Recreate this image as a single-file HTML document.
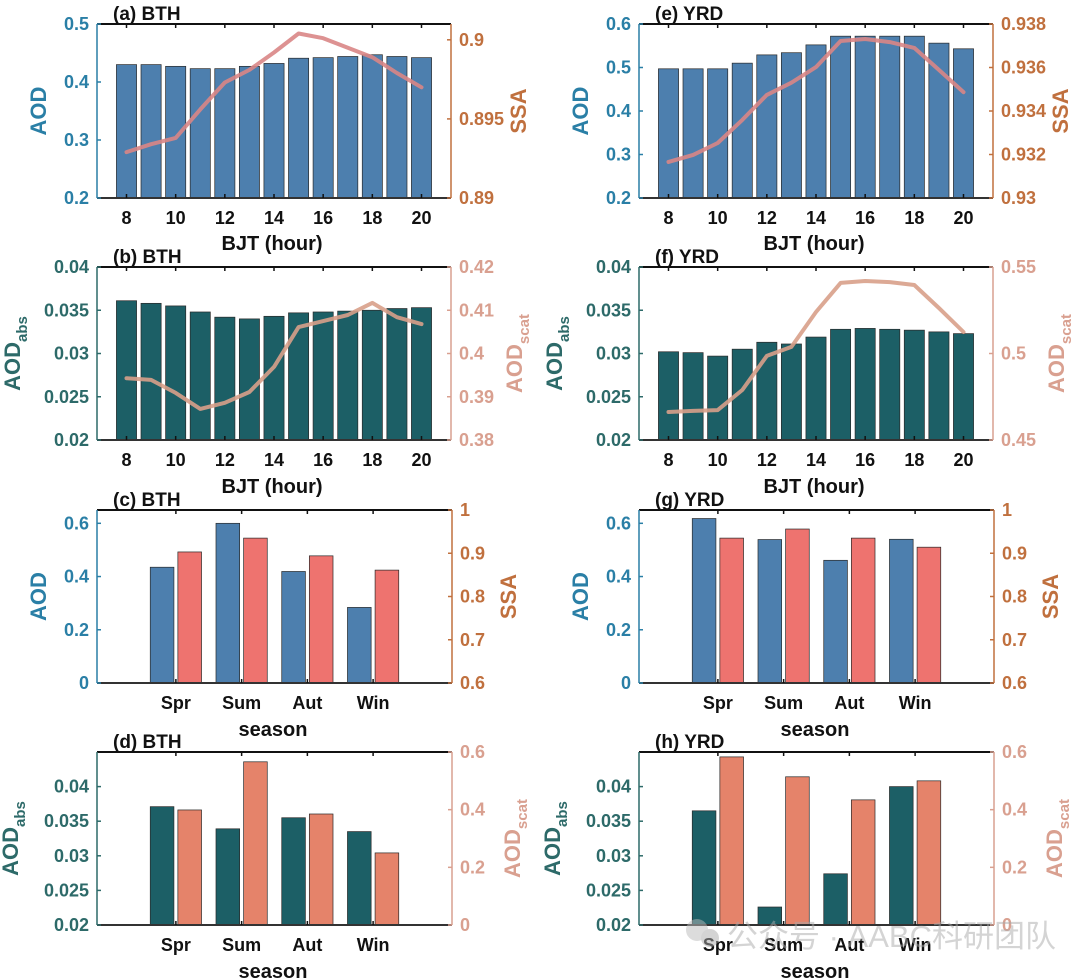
<!DOCTYPE html>
<html><head><meta charset="utf-8">
<style>
html,body{margin:0;padding:0;background:#fff;}
svg{display:block;font-family:"Liberation Sans","Noto Sans CJK SC",sans-serif;font-weight:bold;}
</style></head>
<body>
<svg id="fig" width="1080" height="980" viewBox="0 0 1080 980" xmlns="http://www.w3.org/2000/svg"></svg>
<script>
// ---- data ----
const hours = [8,9,10,11,12,13,14,15,16,17,18,19,20];
const hourTicks = ["8","10","12","14","16","18","20"];
const seasons = ["Spr","Sum","Aut","Win"];

const bthAod = [0.430,0.430,0.427,0.423,0.423,0.427,0.432,0.441,0.442,0.444,0.447,0.444,0.442];
const bthSsa = [0.8929,0.8934,0.8938,0.8956,0.8973,0.8981,0.8992,0.9004,0.9001,0.8995,0.8989,0.8979,0.8970];
const yrdAod = [0.497,0.497,0.497,0.510,0.529,0.534,0.552,0.572,0.572,0.572,0.572,0.556,0.543];
const yrdSsa = [0.93166,0.93198,0.93253,0.93359,0.93474,0.9353,0.93602,0.93722,0.93731,0.93717,0.9369,0.93589,0.93487];

const bthAbs = [0.0361,0.0358,0.0355,0.0348,0.0342,0.0340,0.0343,0.0347,0.0348,0.0349,0.0350,0.0352,0.0353];
const bthScat = [0.3943,0.3939,0.3909,0.3872,0.3886,0.3911,0.3969,0.4061,0.4075,0.4089,0.4117,0.4084,0.4068];
const yrdAbs = [0.0302,0.0301,0.0297,0.0305,0.0313,0.0311,0.0319,0.0328,0.0329,0.0328,0.0327,0.0325,0.0323];
const yrdScat = [0.4662,0.4668,0.4673,0.4789,0.4986,0.5038,0.524,0.5408,0.5419,0.5413,0.5396,0.5263,0.5124];

const bthSeasonAod = [0.435,0.600,0.419,0.284];
const bthSeasonSsa = [0.903,0.935,0.894,0.861];
const yrdSeasonAod = [0.618,0.539,0.461,0.540];
const yrdSeasonSsa = [0.935,0.956,0.935,0.914];

const bthSeasonAbs = [0.0371,0.0339,0.0355,0.0335];
const bthSeasonScat = [0.399,0.566,0.385,0.250];
const yrdSeasonAbs = [0.0365,0.0226,0.0274,0.0400];
const yrdSeasonScat = [0.583,0.514,0.434,0.500];

const ticksAod5 = [0.2,0.3,0.4,0.5];
const ticksAod6 = [0.2,0.3,0.4,0.5,0.6];
const ticksSsaB = [0.89,0.895,0.9];
const ticksSsaY = [0.93,0.932,0.934,0.936,0.938];
const ticksAbs = [0.02,0.025,0.03,0.035,0.04];
const ticksScatB = [0.38,0.39,0.4,0.41,0.42];
const ticksScatY = [0.45,0.5,0.55];
const ticksSeasonAod = [0,0.2,0.4,0.6];
const ticksSeasonSsa = [0.6,0.7,0.8,0.9,1];
const ticksSeasonScat = [0,0.2,0.4,0.6];

// ---- helpers ----
const NS = "http://www.w3.org/2000/svg";
const svg = document.getElementById('fig');
function mk(tag, attrs, parent, text){
  const e = document.createElementNS(NS, tag);
  for (const k in attrs) e.setAttribute(k, attrs[k]);
  if (text !== undefined) e.textContent = text;
  (parent||svg).appendChild(e);
  return e;
}
function lin(d0,d1,r0,r1){ return v => r0 + (v-d0)/(d1-d0)*(r1-r0); }

const C = {
  blueBar:"#4d7fae", tealBar:"#1c5f66", redBar:"#ee736f", orangeBar:"#e5836a",
  leftBlue:"#2a7fa6", leftTeal:"#2d6a69", rightBrown:"#c0703e", rightPink:"#d9a090",
  lineA:"#d98686", lineB:"#d8a08a"
};

function panel(p){
  const g = mk('g', {});
  
  
  const xs = lin(p.xlim[0], p.xlim[1], p.x0, p.x1);
  const yl = lin(p.ylL[0], p.ylL[1], p.y1, p.y0);
  const yr = lin(p.ylR[0], p.ylR[1], p.y1, p.y0);
  p.bars.forEach(b => {
    b.vals.forEach((v,i) => {
      const cx = xs(b.xs[i] + b.off);
      const w = xs(b.w) - xs(0);
      const sc = b.side === 'R' ? yr : yl;
      const base = b.side === 'R' ? p.ylR[0] : p.ylL[0];
      const r = mk('rect', {x:cx-w/2, y:sc(v), width:w, height:sc(base)-sc(v), fill:b.color, stroke:"#2a2a2a", 'stroke-width':0.7}, g);
      
      
    });
  });
  if (p.line){
    const pts = p.line.vals.map((v,i)=> xs(p.line.xs[i]).toFixed(1)+','+yr(v).toFixed(1)).join(' ');
    const l = mk('polyline', {points:pts, fill:'none', stroke:p.line.color, 'stroke-width':4, 'stroke-linejoin':'round', 'stroke-linecap':'round', opacity:0.9}, g);
    
    
  }
  mk('line', {x1:p.x0, y1:p.y0, x2:p.x1, y2:p.y0, stroke:'#111', 'stroke-width':2}, g);
  mk('line', {x1:p.x0, y1:p.y1, x2:p.x1, y2:p.y1, stroke:'#333', 'stroke-width':2}, g);
  mk('line', {x1:p.x0, y1:p.y0, x2:p.x0, y2:p.y1, stroke:p.cL, 'stroke-width':1.5}, g);
  mk('line', {x1:p.x1, y1:p.y0, x2:p.x1, y2:p.y1, stroke:p.cR, 'stroke-width':1.5}, g);
  p.xt.forEach((t,i) => {
    const x = xs(p.xtv[i]);
    mk('line', {x1:x, y1:p.y1, x2:x, y2:p.y1-4, stroke:'#111', 'stroke-width':1.5}, g);
    mk('line', {x1:x, y1:p.y0, x2:x, y2:p.y0+4, stroke:'#111', 'stroke-width':1.5}, g);
    const tx = mk('text', {x:x, y:p.y1+26, 'text-anchor':'middle', 'font-size':18, fill:'#111'}, g, t);
    
    
  });
  p.tL.forEach(v => {
    const y = yl(v);
    mk('line', {x1:p.x0, y1:y, x2:p.x0+4, y2:y, stroke:p.cL, 'stroke-width':1.5}, g);
    const tx = mk('text', {x:p.x0-8, y:y+6, 'text-anchor':'end', 'font-size':18, fill:p.cL}, g, String(v));
    
    
  });
  p.tR.forEach(v => {
    const y = yr(v);
    mk('line', {x1:p.x1, y1:y, x2:p.x1-4, y2:y, stroke:p.cR, 'stroke-width':1.5}, g);
    const tx = mk('text', {x:p.x1+8, y:y+6, 'text-anchor':'start', 'font-size':18, fill:p.cR}, g, String(v));
    
    
  });
  const tt = mk('text', {x:p.x0+16, y:p.y0-4, 'font-size':19, fill:'#111'}, g, p.title);
  
  
  const xl = mk('text', {x:p.xlX, y:p.xlY, 'text-anchor':'middle', 'font-size':20, fill:'#111'}, g, p.xlabel);
  
  
  function ylab(txt, sub, x, col, nm){
    const cy = (p.y0+p.y1)/2;
    const t = mk('text', {x:x, y:cy, 'text-anchor':'middle', 'font-size':22, fill:col, transform:`rotate(-90 ${x} ${cy})`}, g);
    
    
    mk('tspan', {}, t, txt);
    if (sub) mk('tspan', {'font-size':15, dy:7}, t, sub);
  }
  ylab(p.yL[0], p.yL[1], p.yLx, p.cL, 'left-y-axis-title');
  ylab(p.yR[0], p.yR[1], p.yRx, p.cR, 'right-y-axis-title');
}

const hourX = [8,10,12,14,16,18,20];
const seasonX = [1,2,3,4];
const HX = [6.8,21.2], SX = [-0.2,5.2];
const OFF = 542;

function hourly(off, y0, y1, title, aodVals, lineVals, ylL, tL, ylR, tR, barColor, lineColor, cL, cR, yL, yR, xlY, nm){
  panel({name:nm, x0:97+off, x1:451+off, y0:y0, y1:y1, xlim:HX, ylL:ylL, ylR:ylR, tL:tL, tR:tR,
    xt:hourTicks, xtv:hourX, cL:cL, cR:cR, title:title, xlabel:'BJT (hour)', xlX:272+off, xlY:xlY,
    yL:yL, yR:yR, yLx:yL[1]?20+off:46+off, yRx:yR[1]?522+off:526+off,
    bars:[{name:nm+'-bar', xs:hours, vals:aodVals, off:0, w:0.82, color:barColor, side:'L'}],
    line:{name:nm+'-line', xs:hours, vals:lineVals, color:lineColor}});
}
hourly(0, 24, 198, '(a) BTH', bthAod, bthSsa, [0.2,0.5], ticksAod5, [0.89,0.901], ticksSsaB, C.blueBar, C.lineA, C.leftBlue, C.rightBrown, ['AOD',''], ['SSA',''], 250, 'panel-a');
hourly(OFF, 24, 198, '(e) YRD', yrdAod, yrdSsa, [0.2,0.6], ticksAod6, [0.93,0.938], ticksSsaY, C.blueBar, C.lineA, C.leftBlue, C.rightBrown, ['AOD',''], ['SSA',''], 250, 'panel-e');
hourly(0, 267, 440, '(b) BTH', bthAbs, bthScat, [0.02,0.04], ticksAbs, [0.38,0.42], ticksScatB, C.tealBar, C.lineB, C.leftTeal, C.rightPink, ['AOD','abs'], ['AOD','scat'], 493, 'panel-b');
hourly(OFF, 267, 440, '(f) YRD', yrdAbs, yrdScat, [0.02,0.04], ticksAbs, [0.45,0.55], ticksScatY, C.tealBar, C.lineB, C.leftTeal, C.rightPink, ['AOD','abs'], ['AOD','scat'], 493, 'panel-f');

function seasonal(off, y0, y1, title, lv, rv, ylL, tL, ylR, tR, cB1, cB2, cL, cR, yL, yR, xlY, nm){
  panel({name:nm, x0:97+off, x1:452+off, y0:y0, y1:y1, xlim:SX, ylL:ylL, ylR:ylR, tL:tL, tR:tR,
    xt:seasons, xtv:seasonX, cL:cL, cR:cR, title:title, xlabel:'season', xlX:273+off, xlY:xlY,
    yL:yL, yR:yR, yLx:yL[1]?18+off:46+off, yRx:yR[1]?520+off:516+off,
    bars:[{name:nm+'-left-bar', xs:seasonX, vals:lv, off:-0.21, w:0.36, color:cB1, side:'L'},
          {name:nm+'-right-bar', xs:seasonX, vals:rv, off:0.21, w:0.36, color:cB2, side:'R'}]});
}
seasonal(0, 510, 683, '(c) BTH', bthSeasonAod, bthSeasonSsa, [0,0.65], ticksSeasonAod, [0.6,1], ticksSeasonSsa, C.blueBar, C.redBar, C.leftBlue, C.rightBrown, ['AOD',''], ['SSA',''], 736, 'panel-c');
seasonal(OFF, 510, 683, '(g) YRD', yrdSeasonAod, yrdSeasonSsa, [0,0.65], ticksSeasonAod, [0.6,1], ticksSeasonSsa, C.blueBar, C.redBar, C.leftBlue, C.rightBrown, ['AOD',''], ['SSA',''], 736, 'panel-g');
seasonal(0, 752, 925, '(d) BTH', bthSeasonAbs, bthSeasonScat, [0.02,0.045], [0.02,0.025,0.03,0.035,0.04], [0,0.6], ticksSeasonScat, C.tealBar, C.orangeBar, C.leftTeal, C.rightPink, ['AOD','abs'], ['AOD','scat'], 978, 'panel-d');
seasonal(OFF, 752, 925, '(h) YRD', yrdSeasonAbs, yrdSeasonScat, [0.02,0.045], [0.02,0.025,0.03,0.035,0.04], [0,0.6], ticksSeasonScat, C.tealBar, C.orangeBar, C.leftTeal, C.rightPink, ['AOD','abs'], ['AOD','scat'], 978, 'panel-h');

// watermark
const wm = mk('g', {opacity:0.5});


mk('circle', {cx:697, cy:930, r:11, fill:'#bbb'}, wm);
mk('circle', {cx:710, cy:938, r:9, fill:'#aaa'}, wm);
mk('text', {x:727, y:947, 'font-size':31, 'font-weight':'normal', fill:'#aaa'}, wm, '公众号 · AABC科研团队');
</script>
</body></html>
